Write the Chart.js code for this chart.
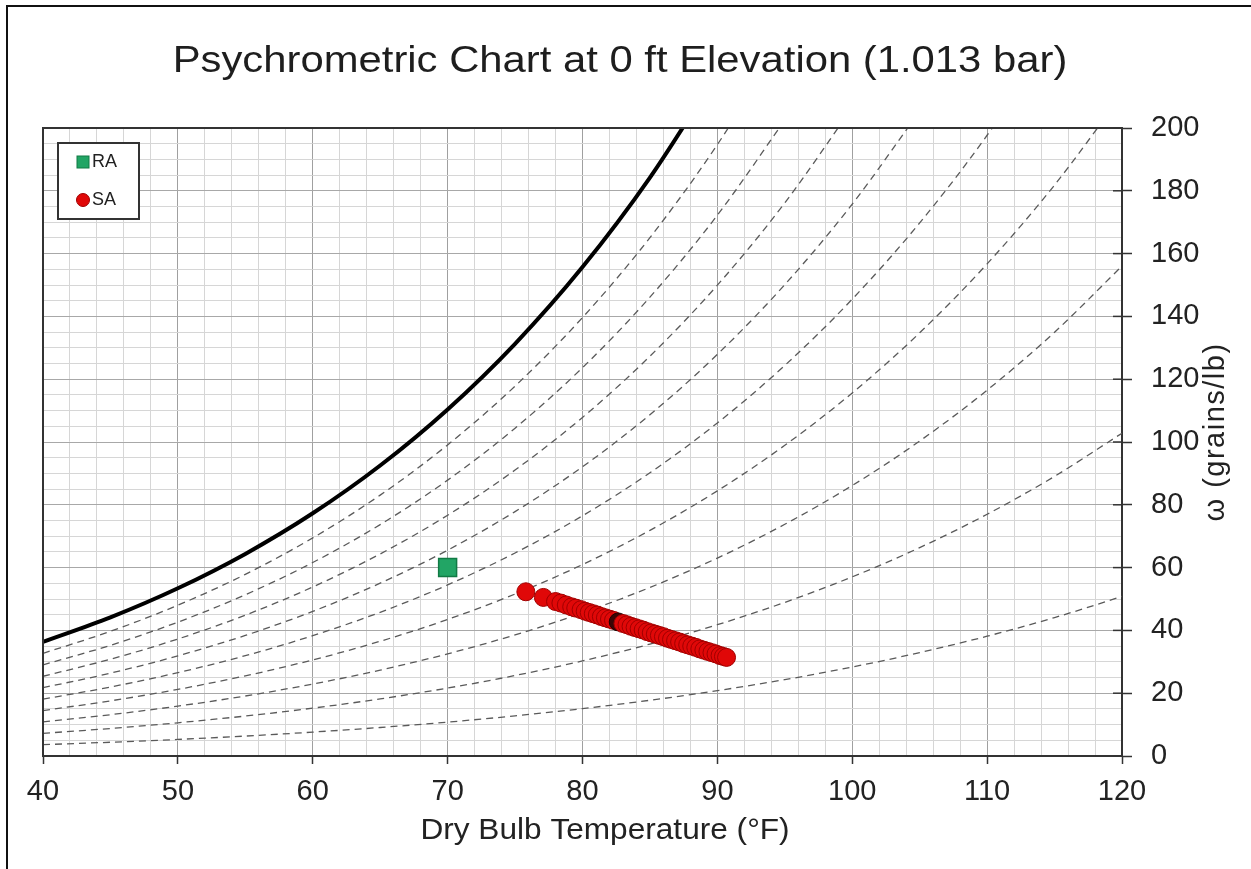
<!DOCTYPE html>
<html>
<head>
<meta charset="utf-8">
<title>Psychrometric Chart</title>
<script src="https://cdn.jsdelivr.net/npm/chart.js@4.4.1/dist/chart.umd.min.js"></script>
<style>
  html, body { margin: 0; padding: 0; background: #fff; }
  canvas { display: block; }
</style>
</head>
<body>
<canvas id="psychro" width="1251" height="869"></canvas>
<script>
// dry bulb temperatures (°F) used by the humidity tables
const tempF = [40, 45, 50, 55, 60, 65, 70, 75, 80, 85, 90, 95, 100, 105, 110, 115, 120];

// humidity ratio (grains/lb) at 1.013 bar for each relative humidity
const rh100 = [36.36, 44.16, 53.42, 64.37, 77.30, 92.51, 110.37, 131.28, 155.71, 184.21, 217.42];
const rh90 = [32.70, 39.70, 48.02, 57.85, 69.45, 83.09, 99.08, 117.79, 139.64, 165.09, 194.72, 229.14];
const rh80 = [29.04, 35.25, 42.63, 51.35, 61.62, 73.70, 87.85, 104.39, 123.68, 146.13, 172.23, 202.49];
const rh70 = [25.39, 30.82, 37.26, 44.86, 53.83, 64.35, 76.67, 91.07, 107.84, 127.33, 149.95, 176.15, 206.46];
const rh60 = [21.75, 26.39, 31.89, 38.40, 46.05, 55.04, 65.55, 77.83, 92.11, 108.69, 127.90, 150.12, 175.77, 205.34];
const rh50 = [18.11, 21.97, 26.55, 31.95, 38.31, 45.77, 54.49, 64.66, 76.49, 90.20, 106.07, 124.39, 145.50, 169.78, 197.69, 229.70];
const rh40 = [14.47, 17.56, 21.21, 25.52, 30.60, 36.54, 43.49, 51.58, 60.97, 71.86, 84.44, 98.95, 115.63, 134.77, 156.74, 181.84, 210.58];
const rh30 = [10.85, 13.15, 15.89, 19.11, 22.91, 27.35, 32.53, 38.57, 45.57, 53.68, 63.03, 73.79, 86.15, 100.31, 116.50, 134.97, 156.05];
const rh20 = [7.22, 8.76, 10.58, 12.72, 15.24, 18.19, 21.63, 25.64, 30.28, 35.64, 41.82, 48.92, 57.05, 66.36, 76.98, 89.06, 102.80];
const rh10 = [3.61, 4.38, 5.28, 6.35, 7.61, 9.08, 10.79, 12.78, 15.09, 17.75, 20.81, 24.32, 28.34, 32.93, 38.15, 44.08, 50.80];
const rhLabels = ['90%', '80%', '70%', '60%', '50%', '40%', '30%', '20%', '10%'];
const rhCurves = [rh90, rh80, rh70, rh60, rh50, rh40, rh30, rh20, rh10];

// return air state
const raTemp = [70];
const raOmega = [60];

// supply air states
const saTemp = [75.8, 77.1, 78.0, 78.4, 78.8, 79.2, 79.5, 79.9, 80.2, 80.5, 80.8, 81.1, 81.4, 81.7, 82.0,
  82.3, 82.65, 83.0, 83.3, 83.6, 83.9, 84.2, 84.5, 84.8, 85.1, 85.4, 85.7, 86.0, 86.3, 86.6, 86.9,
  87.2, 87.5, 87.8, 88.1, 88.4, 88.7, 89.0, 89.3, 89.6, 89.9, 90.2, 90.45, 90.68];
const saOmega = [52.3, 50.5, 49.2, 48.7, 48.1, 47.5, 47.1, 46.6, 46.1, 45.7, 45.3, 44.9, 44.4, 44.0, 43.6,
  43.2, 42.7, 42.2, 41.8, 41.3, 40.9, 40.5, 40.1, 39.6, 39.2, 38.8, 38.4, 38.0, 37.5, 37.1, 36.7,
  36.3, 35.8, 35.4, 35.0, 34.6, 34.1, 33.7, 33.3, 32.9, 32.5, 32.0, 31.7, 31.4];
const saMixedIndex = 16;

// labelled ticks
const xMajor = [40, 50, 60, 70, 80, 90, 100, 110, 120];
const yMajor = [0, 20, 40, 60, 80, 100, 120, 140, 160, 180, 200];

const FONT = "'Liberation Sans', Arial, sans-serif";
const SA_FILL = '#e00808';
const SA_EDGE = '#a00000';

function pairs(xs, ys) {
  return ys.map((y, i) => ({ x: xs[i], y: y }));
}

const curveSets = rhCurves.map((c, i) => ({
  label: rhLabels[i],
  data: pairs(tempF, c),
  borderColor: '#5a5a5a',
  borderWidth: 1.3,
  borderDash: [7, 5],
  pointRadius: 0,
  cubicInterpolationMode: 'monotone',
  fill: false
}));

// text stretched sideways around a centre point
function wideText(ctx, text, x, y, size, stretch, angle) {
  ctx.save();
  ctx.translate(x, y);
  if (angle) ctx.rotate(angle);
  ctx.scale(stretch, 1);
  ctx.font = size + 'px ' + FONT;
  ctx.textAlign = 'center';
  ctx.textBaseline = 'middle';
  ctx.fillText(text, 0, 0);
  ctx.restore();
}

// legend drawn as a boxed panel in the top-left of the plot
const boxLegend = {
  id: 'boxLegend',
  afterDraw(chart) {
    const { ctx, chartArea } = chart;
    const x0 = chartArea.left + 15, y0 = chartArea.top + 15;
    const sa = chart.data.datasets[0];
    const ra = chart.data.datasets[1];
    ctx.save();
    ctx.fillStyle = '#fff';
    ctx.fillRect(x0, y0, 81, 76);
    ctx.strokeStyle = '#333';
    ctx.lineWidth = 2;
    ctx.strokeRect(x0, y0, 81, 76);
    ctx.font = '18px ' + FONT;
    ctx.textBaseline = 'middle';
    ctx.lineWidth = 1;
    ctx.fillStyle = ra.pointBackgroundColor;
    ctx.strokeStyle = ra.pointBorderColor;
    ctx.fillRect(x0 + 19, y0 + 13, 12, 12);
    ctx.strokeRect(x0 + 19, y0 + 13, 12, 12);
    ctx.fillStyle = '#222';
    ctx.fillText(ra.label, x0 + 34, y0 + 19);
    ctx.beginPath();
    ctx.arc(x0 + 25, y0 + 57, 6.5, 0, Math.PI * 2);
    ctx.fillStyle = SA_FILL;
    ctx.fill();
    ctx.strokeStyle = SA_EDGE;
    ctx.stroke();
    ctx.fillStyle = '#222';
    ctx.fillText(sa.label, x0 + 34, y0 + 57);
    ctx.restore();
  }
};

// plot frame, inward ticks on the right axis, titles and page border
const frame = {
  id: 'frame',
  afterDraw(chart) {
    const { ctx, chartArea } = chart;
    const ys = chart.scales.y;
    ctx.save();
    ctx.strokeStyle = '#333';
    ctx.lineWidth = 2;
    ctx.beginPath();
    ctx.moveTo(chartArea.left, chartArea.bottom);
    ctx.lineTo(chartArea.left, chartArea.top);
    ctx.lineTo(chartArea.right, chartArea.top);
    ctx.stroke();
    ctx.lineWidth = 1.5;
    yMajor.forEach(v => {
      const py = ys.getPixelForValue(v);
      ctx.beginPath();
      ctx.moveTo(chartArea.right - 9, py);
      ctx.lineTo(chartArea.right, py);
      ctx.stroke();
    });
    ctx.fillStyle = '#1e1e1e';
    wideText(ctx, 'Psychrometric Chart at 0 ft Elevation (1.013 bar)', 620, 62, 37, 1.13, 0);
    ctx.fillStyle = '#222';
    wideText(ctx, 'Dry Bulb Temperature (°F)', 605, 831, 29, 1.09, 0);
    ctx.save();
    ctx.letterSpacing = '1.5px';
    wideText(ctx, 'ω (grains/lb)', 1216, 432, 29, 1, -Math.PI / 2);
    ctx.restore();
    ctx.fillStyle = '#111';
    ctx.fillRect(6, 5, chart.width - 6, 2);
    ctx.fillRect(6, 5, 2, chart.height - 5);
    ctx.restore();
  }
};

new Chart(document.getElementById('psychro'), {
  type: 'line',
  data: {
    datasets: [
      {
        label: 'SA',
        data: pairs(saTemp, saOmega),
        showLine: false,
        pointRadius: 9,
        pointBorderWidth: 1,
        pointBackgroundColor: (ctx) => ctx.dataIndex === saMixedIndex ? '#3a0505' : SA_FILL,
        pointBorderColor: (ctx) => ctx.dataIndex === saMixedIndex ? '#200000' : SA_EDGE
      },
      {
        label: 'RA',
        data: pairs(raTemp, raOmega),
        showLine: false,
        pointStyle: 'rect',
        pointRadius: 12.7,
        pointBorderWidth: 1.5,
        pointBackgroundColor: '#22a565',
        pointBorderColor: '#117a44'
      },
      {
        label: 'Saturation',
        data: pairs(tempF, rh100),
        borderColor: '#000',
        borderWidth: 4,
        pointRadius: 0,
        cubicInterpolationMode: 'monotone',
        fill: false
      },
      ...curveSets
    ]
  },
  options: {
    responsive: false,
    animation: false,
    events: [],
    layout: { padding: { left: 43, right: 0, top: 128, bottom: 0 } },
    plugins: {
      legend: { display: false },
      tooltip: { enabled: false },
      title: { display: false }
    },
    scales: {
      x: {
        type: 'linear',
        min: 40,
        max: 120,
        afterFit: (scale) => { scale.height = 113; },
        border: { color: '#333', width: 2 },
        grid: {
          color: (ctx) => ctx.tick && xMajor.includes(ctx.tick.value) ? '#a0a0a0' : '#d6d6d6',
          tickColor: (ctx) => ctx.tick && xMajor.includes(ctx.tick.value) ? '#333' : 'rgba(0,0,0,0)',
          tickLength: 8,
          tickWidth: 1.5
        },
        ticks: {
          stepSize: 2,
          autoSkip: false,
          maxRotation: 0,
          padding: 11,
          color: '#222',
          font: { family: FONT, size: 29 },
          callback: (v) => xMajor.includes(v) ? String(v) : ''
        }
      },
      y: {
        type: 'linear',
        position: 'right',
        min: 0,
        max: 200,
        afterFit: (scale) => { scale.width = 129; },
        border: { color: '#333', width: 2 },
        grid: {
          color: (ctx) => ctx.tick && yMajor.includes(ctx.tick.value) ? '#a8a8a8' : '#d6d6d6',
          tickColor: (ctx) => ctx.tick && yMajor.includes(ctx.tick.value) ? '#333' : 'rgba(0,0,0,0)',
          tickLength: 10,
          tickWidth: 1.5
        },
        ticks: {
          stepSize: 5,
          autoSkip: false,
          padding: 19,
          color: '#222',
          font: { family: FONT, size: 29 },
          callback: (v) => yMajor.includes(v) ? String(v) : ''
        }
      }
    }
  },
  plugins: [boxLegend, frame]
});
</script>
</body>
</html>
